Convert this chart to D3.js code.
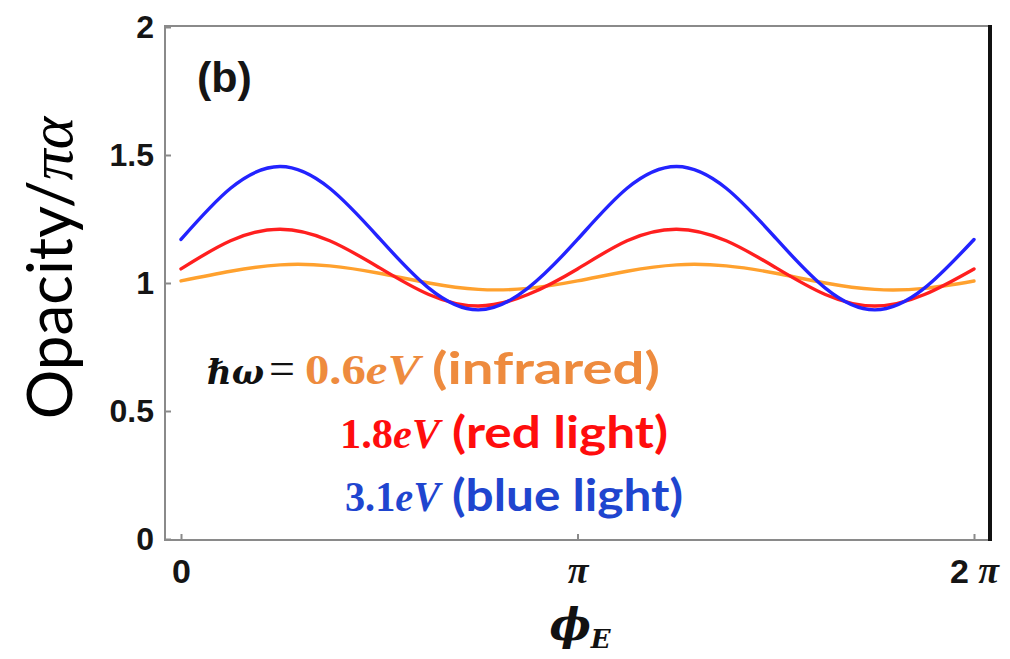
<!DOCTYPE html>
<html>
<head>
<meta charset="utf-8">
<script src="https://cdn.jsdelivr.net/npm/d3@7"></script>
<style>
	body { margin: 0; background: #fff; }
</style>
</head>
<body>
<div id="chart"></div>
<script>
//data (phi in units of pi)
const phi = [0, 0.125, 0.25, 0.375, 0.5, 0.625, 0.75, 0.875, 1, 1.125, 1.25, 1.375, 1.5, 1.625, 1.75, 1.875, 2];
const infrared = [1.008, 1.046, 1.071, 1.067, 1.038, 1.0, 0.975, 0.979, 1.008, 1.046, 1.071, 1.067, 1.038, 1.0, 0.975, 0.979, 1.008];
const redLight = [1.055, 1.165, 1.21, 1.165, 1.06, 0.955, 0.91, 0.955, 1.055, 1.165, 1.21, 1.165, 1.06, 0.955, 0.91, 0.955, 1.055];
const blueLight = [1.17, 1.37, 1.455, 1.37, 1.175, 0.98, 0.895, 0.98, 1.17, 1.37, 1.455, 1.37, 1.175, 0.98, 0.895, 0.98, 1.17];

const energies = ['0.6', '1.8', '3.1'];
const lightNames = ['(infrared)', '(red light)', '(blue light)'];
const xTicks = [0, 1, 2];
const xTickLabels = ['0', 'π', '2 π'];
const yTicks = [0, 0.5, 1, 1.5, 2];
const yTickLabels = ['0', '0.5', '1', '1.5', '2'];

render();

function render() {
	let props = {
		width: 1010,
		height: 659,
		frame: { left: 165, top: 26, right: 990, bottom: 540 },
		lineColors: ['#ffa12e', '#ff1f1f', '#2323ff'],
		textColors: ['#ee8b3e', '#ff0d0d', '#1f45cf'],
		axisColor: '#8a8a8a',
	};
	createChart(d3.select('#chart'), props);
}

function createChart(container, props) {
	let { width, height, frame, lineColors, textColors, axisColor } = props;

	let svg = container
		.append('svg')
		.attr('width', width)
		.attr('height', height)
		.style('background', '#fff');

	let x = d3.scaleLinear().domain([0, 2]).range([181, 974]);
	let y = d3.scaleLinear().domain([0, 2]).range([539, 27]);

	//frame
	svg.append('rect')
		.attr('x', frame.left)
		.attr('y', frame.top)
		.attr('width', frame.right - frame.left)
		.attr('height', frame.bottom - frame.top)
		.attr('fill', 'none')
		.attr('stroke', axisColor)
		.attr('stroke-width', 2);

	svg.append('line')
		.attr('x1', frame.right)
		.attr('x2', frame.right)
		.attr('y1', frame.top - 1)
		.attr('y2', frame.bottom + 1)
		.attr('stroke', '#111')
		.attr('stroke-width', 4);

	//axes
	let xAxis = svg.append('g')
		.attr('transform', translation(0, frame.bottom))
		.call(
			d3.axisBottom(x)
				.tickValues(xTicks)
				.tickFormat((d, i) => xTickLabels[i])
				.tickSizeInner(-6)
				.tickSizeOuter(0)
				.tickPadding(19)
		);

	let yAxis = svg.append('g')
		.attr('transform', translation(frame.left, 0))
		.call(
			d3.axisLeft(y)
				.tickValues(yTicks)
				.tickFormat((d, i) => yTickLabels[i])
				.tickSizeInner(-6)
				.tickSizeOuter(0)
				.tickPadding(11)
		);

	[xAxis, yAxis].forEach((axis) => {
		axis.select('.domain').remove();
		axis.selectAll('.tick line').attr('stroke', axisColor).attr('stroke-width', 2);
		axis.selectAll('.tick text')
			.attr('fill', '#151515')
			.attr('font-family', 'Liberation Sans, Arial, sans-serif')
			.attr('font-weight', 'bold')
			.attr('font-size', 32);
	});

	// pi in a bold italic serif, like the reference
	xAxis.selectAll('.tick text')
		.attr('font-size', 34)
		.html((d, i) =>
			xTickLabels[i].replace('π', '<tspan font-family="Liberation Serif, serif" font-style="italic" font-size="38">π</tspan>')
		);

	//curves
	let line = d3.line()
		.x((d, i) => x(phi[i]))
		.y((d) => y(d))
		.curve(d3.curveNatural);

	svg.selectAll('.curve')
		.data([infrared, redLight, blueLight])
		.enter()
		.append('path')
		.attr('class', 'curve')
		.attr('d', line)
		.attr('fill', 'none')
		.attr('stroke', (d, i) => lineColors[i])
		.attr('stroke-width', 3.4)
		.attr('stroke-linecap', 'round');

	//panel tag
	svg.append('text')
		.attr('x', 197)
		.attr('y', 92)
		.attr('font-family', 'Liberation Sans, Arial, sans-serif')
		.attr('font-weight', 'bold')
		.attr('font-size', 43)
		.attr('fill', '#151515')
		.text('(b)');

	//legend
	let legendY = [384, 448, 511];
	let energyX = [305, 340, 345];
	let energyLen = [115, 100, 95];
	let nameX = [432, 452, 452];
	let nameLen = [228, 216, 231];

	svg.append('text')
		.attr('x', 207)
		.attr('y', legendY[0])
		.attr('font-family', 'DejaVu Serif, serif')
		.attr('font-style', 'italic')
		.attr('font-weight', 'bold')
		.attr('font-size', 34)
		.attr('fill', '#111')
		.text('ℏω');

	svg.append('text')
		.attr('x', 269)
		.attr('y', legendY[0])
		.attr('font-family', 'Liberation Serif, serif')
		.attr('font-size', 46)
		.attr('fill', '#111')
		.text('=');

	let energyText = svg.selectAll('.energy')
		.data(energies)
		.enter()
		.append('text')
		.attr('class', 'energy')
		.attr('x', (d, i) => energyX[i])
		.attr('y', (d, i) => legendY[i])
		.attr('textLength', (d, i) => energyLen[i])
		.attr('lengthAdjust', 'spacingAndGlyphs')
		.attr('font-family', 'Liberation Serif, serif')
		.attr('font-weight', 'bold')
		.attr('font-size', 42)
		.attr('fill', (d, i) => textColors[i]);

	energyText.append('tspan').text((d) => d);
	energyText.append('tspan').attr('font-style', 'italic').text('eV');

	svg.selectAll('.light-name')
		.data(lightNames)
		.enter()
		.append('text')
		.attr('class', 'light-name')
		.attr('x', (d, i) => nameX[i])
		.attr('y', (d, i) => legendY[i])
		.attr('textLength', (d, i) => nameLen[i])
		.attr('lengthAdjust', 'spacingAndGlyphs')
		.attr('font-family', 'Lato, sans-serif')
		.attr('font-weight', 'bold')
		.attr('font-size', 44)
		.attr('fill', (d, i) => textColors[i])
		.text((d) => d);

	//axis titles
	svg.append('text')
		.attr('transform', translation(72, 268) + ' rotate(-90)')
		.attr('text-anchor', 'middle')
		.attr('font-family', 'Lato, sans-serif')
		.attr('font-size', 62)
		.attr('fill', '#000')
		.html('Opacity/<tspan font-family="Liberation Serif, serif" font-style="italic">πα</tspan>');

	svg.append('text')
		.attr('x', 580)
		.attr('y', 640)
		.attr('text-anchor', 'middle')
		.attr('font-family', 'DejaVu Serif, serif')
		.attr('font-style', 'italic')
		.attr('font-weight', 'bold')
		.attr('font-size', 44)
		.attr('fill', '#111')
		.html('ϕ<tspan font-size="26" dy="8">E</tspan>');
}

//utils
function translation(x, y) {
	return `translate(${x}, ${y})`;
}
</script>
</body>
</html>
